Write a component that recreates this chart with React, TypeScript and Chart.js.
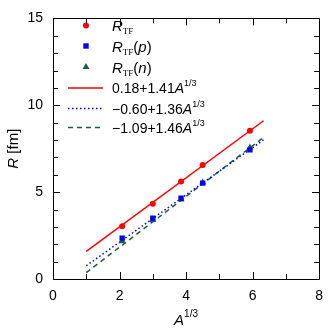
import React, { useEffect, useRef } from 'react';
import { Chart, registerables } from 'chart.js';

Chart.register(...registerables);

// ---- data ----
const xValues = [2.08, 3.0, 3.85, 4.5, 5.92];
const rTF = [3.03, 4.33, 5.61, 6.56, 8.53];
const rTFp = [2.35, 3.5, 4.65, 5.52, 7.43];
const rTFn = [2.17, 3.39, 4.58, 5.55, 7.57];

const fitX = [1, 6.33];
const fitTF = [1.59, 9.11];
const fitP = [0.76, 8.01];
const fitN = [0.37, 8.15];

const pointSuffixes = ['', '(p)', '(n)'];
const fitLabels = ['0.18+1.41', '\u22120.60+1.36', '\u22121.09+1.46'];

const xRange = [0, 8];
const yRange = [0, 15];
const xMajorStep = 2;
const yMajorStep = 5;

const RED = '#ff0000';
const BLUE = '#0000ff';
const GREEN = '#1b5e3b';
const SANS = '"Liberation Sans", Arial, sans-serif';
const SERIF = '"Liberation Serif", "Times New Roman", serif';

type Seg = { t: string; font: string; dy?: number };

function richWidth(ctx: CanvasRenderingContext2D, segs: Seg[]) {
  let w = 0;
  for (const s of segs) {
    ctx.font = s.font;
    w += ctx.measureText(s.t).width;
  }
  return w;
}

function drawRich(ctx: CanvasRenderingContext2D, x: number, y: number, segs: Seg[]) {
  let cx = x;
  ctx.textBaseline = 'alphabetic';
  ctx.textAlign = 'left';
  for (const s of segs) {
    ctx.font = s.font;
    ctx.fillText(s.t, cx, y + (s.dy || 0));
    cx += ctx.measureText(s.t).width;
  }
}

const rSegs = (suffix: string): Seg[] => {
  const segs: Seg[] = [
    { t: 'R', font: `italic 15px ${SANS}` },
    { t: 'TF', font: `9px ${SERIF}`, dy: 3 },
  ];
  if (suffix) {
    segs.push({ t: '(', font: `15px ${SANS}` });
    segs.push({ t: suffix.slice(1, -1), font: `italic 15px ${SANS}` });
    segs.push({ t: ')', font: `15px ${SANS}` });
  }
  return segs;
};

const fitSegs = (lab: string): Seg[] => [
  { t: lab, font: `14px ${SANS}` },
  { t: 'A', font: `italic 14px ${SANS}` },
  { t: '1/3', font: `9px ${SANS}`, dy: -7 },
];

const framePlugin = {
  id: 'frameTicks',
  afterDraw(chart: any) {
    const ctx: CanvasRenderingContext2D = chart.ctx;
    const { left, right, top, bottom } = chart.chartArea;
    const xs = chart.scales.x;
    const ys = chart.scales.y;
    ctx.save();
    ctx.strokeStyle = '#000';
    ctx.lineWidth = 1;
    // frame
    ctx.beginPath();
    ctx.rect(Math.round(left) + 0.5, Math.round(top) + 0.5, Math.round(right - left), Math.round(bottom - top));
    ctx.stroke();
    // ticks inward
    const MAJ = 7;
    const MIN = 5;
    ctx.beginPath();
    for (let v = xRange[0]; v <= xRange[1]; v += 1) {
      const px = Math.round(xs.getPixelForValue(v)) + 0.5;
      const len = v % xMajorStep === 0 ? MAJ : MIN;
      ctx.moveTo(px, bottom);
      ctx.lineTo(px, bottom - len);
      ctx.moveTo(px, top);
      ctx.lineTo(px, top + len);
    }
    for (let v = yRange[0]; v <= yRange[1]; v += 1) {
      const py = Math.round(ys.getPixelForValue(v)) + 0.5;
      const len = v % yMajorStep === 0 ? MAJ : MIN;
      ctx.moveTo(left, py);
      ctx.lineTo(left + len, py);
      ctx.moveTo(right, py);
      ctx.lineTo(right - len, py);
    }
    ctx.stroke();

    // axis titles
    ctx.fillStyle = '#000';
    const xt: Seg[] = [
      { t: 'A', font: `italic 15px ${SANS}` },
      { t: '1/3', font: `10px ${SANS}`, dy: -8 },
    ];
    const xw = richWidth(ctx, xt);
    drawRich(ctx, (left + right) / 2 - xw / 2, 325, xt);

    const yt: Seg[] = [
      { t: 'R', font: `italic 15px ${SANS}` },
      { t: ' [fm]', font: `15px ${SANS}` },
    ];
    const yw = richWidth(ctx, yt);
    ctx.save();
    ctx.translate(17.5, (top + bottom) / 2);
    ctx.rotate(-Math.PI / 2);
    drawRich(ctx, -yw / 2, 0, yt);
    ctx.restore();

    // legend
    const lineX0 = 68;
    const lineX1 = 103;
    const markX = 86;
    const textX = 112;
    const rows = [25.5, 46, 67, 88, 108.5, 127.5];
    const colors = [RED, BLUE, GREEN];
    const styles = ['circle', 'rect', 'triangle'];
    const radii = [3, 3.8, 4];
    for (let i = 0; i < 3; i++) {
      const cy = rows[i];
      ctx.fillStyle = colors[i];
      ctx.strokeStyle = colors[i];
      (Chart as any).helpers
        ? null
        : null;
      drawMarker(ctx, styles[i], markX, cy, radii[i]);
      ctx.fillStyle = '#000';
      drawRich(ctx, textX, cy + 5.5, rSegs(pointSuffixes[i]));
    }
    const dashes = [[], [1.5, 2.5], [5, 4]];
    for (let i = 0; i < 3; i++) {
      const cy = rows[i + 3];
      ctx.strokeStyle = colors[i];
      ctx.lineWidth = 1.5;
      ctx.setLineDash(dashes[i]);
      ctx.beginPath();
      ctx.moveTo(lineX0, cy);
      ctx.lineTo(lineX1, cy);
      ctx.stroke();
      ctx.setLineDash([]);
      ctx.fillStyle = '#000';
      drawRich(ctx, textX, cy + 5, fitSegs(fitLabels[i]));
    }
    ctx.restore();
  },
};

function drawMarker(ctx: CanvasRenderingContext2D, style: string, x: number, y: number, r: number) {
  ctx.beginPath();
  if (style === 'circle') {
    ctx.arc(x, y, r, 0, Math.PI * 2);
  } else if (style === 'rect') {
    const s = r * Math.SQRT1_2;
    ctx.rect(x - s, y - s, 2 * s, 2 * s);
  } else {
    const h = r * 1.5;
    ctx.moveTo(x, y - r);
    ctx.lineTo(x + r * Math.sin(Math.PI / 3), y + r / 2);
    ctx.lineTo(x - r * Math.sin(Math.PI / 3), y + r / 2);
    ctx.closePath();
    void h;
  }
  ctx.fill();
}

const pts = (ys: number[]) => xValues.map((x, i) => ({ x, y: ys[i] }));
const line = (ys: number[]) => fitX.map((x, i) => ({ x, y: ys[i] }));

export default function App() {
  const ref = useRef<HTMLCanvasElement | null>(null);
  useEffect(() => {
    document.body.style.margin = '0';
    const canvas = ref.current!;
    const tickFont = { family: SANS, size: 14 };
    const chart = new Chart(canvas, {
      type: 'scatter',
      data: {
        datasets: [
          { label: 'RTF', data: pts(rTF), showLine: false, pointStyle: 'circle', pointRadius: 3, pointBackgroundColor: RED, pointBorderColor: RED, pointBorderWidth: 0 } as any,
          { label: 'RTF(p)', data: pts(rTFp), showLine: false, pointStyle: 'rect', pointRadius: 3.8, pointBackgroundColor: BLUE, pointBorderColor: BLUE, pointBorderWidth: 0 } as any,
          { label: 'RTF(n)', data: pts(rTFn), showLine: false, pointStyle: 'triangle', pointRadius: 4, pointBackgroundColor: GREEN, pointBorderColor: GREEN, pointBorderWidth: 0 } as any,
          { label: 'fitTF', data: line(fitTF), showLine: true, pointRadius: 0, borderColor: RED, borderWidth: 1.5 } as any,
          { label: 'fitP', data: line(fitP), showLine: true, pointRadius: 0, borderColor: BLUE, borderWidth: 1.5, borderDash: [1.5, 2.5] } as any,
          { label: 'fitN', data: line(fitN), showLine: true, pointRadius: 0, borderColor: GREEN, borderWidth: 1.5, borderDash: [5, 4] } as any,
        ],
      },
      options: {
        responsive: false,
        animation: false,
        layout: { padding: { top: 7, right: 8, left: 0, bottom: 0 } },
        plugins: { legend: { display: false }, tooltip: { enabled: false } },
        scales: {
          x: {
            type: 'linear',
            min: xRange[0],
            max: xRange[1],
            afterFit: (s: any) => { s.height = 50; },
            grid: { display: false, drawTicks: false },
            border: { display: false },
            ticks: { stepSize: xMajorStep, padding: 9, color: '#000', font: tickFont, maxRotation: 0, callback: (v: any) => String(v) },
          },
          y: {
            type: 'linear',
            min: yRange[0],
            max: yRange[1],
            afterFit: (s: any) => { s.width = 53; },
            grid: { display: false, drawTicks: false },
            border: { display: false },
            ticks: { stepSize: yMajorStep, padding: 10, color: '#000', font: tickFont, callback: (v: any) => String(v) },
          },
        },
      } as any,
      plugins: [framePlugin],
    });
    return () => chart.destroy();
  }, []);
  return <canvas ref={ref} width={332} height={329} style={{ display: 'block', width: 332, height: 329 }} />;
}
